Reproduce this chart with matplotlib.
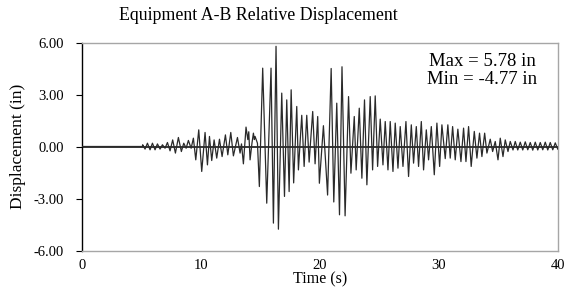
import matplotlib
matplotlib.use("Agg")
import matplotlib.pyplot as plt

plt.rcParams['font.family'] = ['Liberation Serif', 'DejaVu Serif']

title = "Equipment A-B Relative Displacement"
x_label = "Time (s)"
y_label = "Displacement (in)"
x_ticks = [0, 10, 20, 30, 40]
y_ticks = [-6.0, -3.0, 0.0, 3.0, 6.0]
max_val = 5.78
min_val = -4.77

# turning points of the record (time s, displacement in)
time_s = [0.0, 5.10,
          5.12, 5.32, 5.52, 5.74, 5.94, 6.16, 6.36, 6.58, 6.78, 7.00,
          7.20, 7.42, 7.64, 7.87, 8.12, 8.37, 8.57, 8.77, 8.96, 9.19,
          9.38, 9.58, 9.83, 10.08, 10.36, 10.56, 10.73, 10.92, 11.12, 11.34,
          11.57, 11.79, 12.07, 12.27, 12.52, 12.74, 13.08, 13.30,
          13.42, 13.58, 13.80, 13.95, 14.03, 14.14, 14.30, 14.42, 14.50, 14.56,
          14.76, 14.92, 15.20, 15.54, 15.90, 16.10, 16.32, 16.52, 16.80, 17.03,
          17.22, 17.42, 17.59, 17.80, 18.06, 18.20, 18.48, 18.68, 18.90, 19.10,
          19.40, 19.60, 19.82, 19.96, 20.30, 20.65, 20.95, 21.17, 21.42, 21.65,
          21.86, 22.12, 22.41, 22.61, 22.89, 23.05, 23.31, 23.53, 23.75, 23.95,
          24.23, 24.43, 24.65, 24.85, 25.07, 25.30, 25.49, 25.72, 25.91, 26.14,
          26.33, 26.56, 26.75, 26.98, 27.23, 27.45, 27.68, 27.87, 28.10, 28.29,
          28.52, 28.71, 28.94, 29.13, 29.36, 29.61, 29.83, 30.06, 30.25, 30.53,
          30.75, 30.95, 31.15, 31.37, 31.59, 31.85, 32.07, 32.27, 32.49, 32.71,
          32.97, 33.19, 33.41, 33.61, 33.84, 34.03, 34.31, 34.51, 34.73, 34.96,
          35.15, 35.38, 35.57, 35.80, 35.99, 36.22, 36.41, 36.62, 36.83, 37.04,
          37.25, 37.46, 37.67, 37.88, 38.09, 38.30, 38.51, 38.72, 38.93, 39.14,
          39.35, 39.56, 39.77, 39.98]
disp_in = [0.0, 0.0,
           0.10, -0.15, 0.19, -0.19, 0.19, -0.19, 0.15, -0.15, 0.10, -0.10,
           0.23, -0.25, 0.38, -0.38, 0.52, -0.29, 0.19, -0.10, 0.35, -0.10,
           0.48, -0.77, 0.96, -1.44, 0.81, -1.06, 0.58, -0.81, 0.38, -0.67,
           0.42, -0.58, 0.67, -0.48, 0.81, -0.54, 0.52, -0.38,
           0.15, -1.00, 1.12, 0.40, 0.85, -0.77, 0.20, 0.77, 0.40, 0.58,
           0.19, -2.31, 4.52, -3.27, 4.52, -4.42, 5.78, -4.77, 3.08, -2.88,
           2.69, -2.60, 3.27, -2.10, 2.31, -1.35, 1.80, -1.15, 1.80, -0.90,
           2.02, -1.00, 1.73, -2.12, 1.20, -2.80, 4.50, -3.20, 2.50, -3.94,
           4.60, -4.00, 2.88, -1.54, 1.73, -1.35, 2.21, -1.83, 2.69, -2.21,
           2.88, -1.35, 2.92, -1.15, 1.58, -1.06, 1.44, -1.35, 1.44, -1.44,
           1.35, -1.25, 1.15, -1.15, 1.44, -1.73, 1.25, -0.96, 1.15, -1.15,
           1.44, -1.35, 0.96, -0.77, 1.15, -1.63, 1.35, -1.15, 1.25, -0.70,
           1.25, -0.67, 1.15, -0.77, 1.00, -0.87, 1.06, -0.87, 1.15, -1.15,
           0.87, -0.67, 0.77, -0.58, 0.77, -0.38, 0.42, -0.29, 0.29, -0.77,
           0.48, -0.58, 0.38, -0.29, 0.29, -0.20, 0.29, -0.20, 0.25, -0.20,
           0.27, -0.19, 0.23, -0.21, 0.25, -0.20, 0.23, -0.19, 0.25, -0.20,
           0.23, -0.19, 0.21, -0.15]

W, H = 575, 297
fig = plt.figure(figsize=(W / 100, H / 100), dpi=100)
ax = fig.add_axes([81.7 / W, 46.5 / H, (558 - 81.7) / W, (250.5 - 42.5) / H])

ax.axhline(0, color='black', lw=1.1, zorder=2)
ax.plot(time_s, disp_in, color='#2a2a2a', lw=0.9, zorder=3)

ax.set_xlim(0, 40)
ax.set_ylim(-6, 6)
ax.set_xticks(x_ticks)
ax.set_xticklabels([str(v) for v in x_ticks])
ax.set_yticks(y_ticks)
ax.set_yticklabels([f"{v:.2f}" for v in y_ticks])
ax.tick_params(axis='x', length=0, pad=6, labelsize=10.5)
ax.tick_params(axis='y', length=4, width=0.8, direction='out', pad=9, labelsize=10.5)

for side in ['top', 'right', 'bottom']:
    ax.spines[side].set_color('#a6a6a6')
    ax.spines[side].set_linewidth(1.0)
ax.spines['left'].set_color('black')
ax.spines['left'].set_linewidth(1.0)

ax.set_ylabel(y_label, fontsize=12.5, labelpad=5)

fig.text(258 / W, 1 - 15 / H, title, ha='center', va='center', fontsize=12.8)
fig.text(320 / W, 1 - 279 / H, x_label, ha='center', va='center', fontsize=11.5)
fig.text(482 / W, 1 - 62 / H, f"Max = {max_val:.2f} in", ha='center', va='center', fontsize=13.5)
fig.text(482 / W, 1 - 80 / H, f"Min = {min_val:.2f} in", ha='center', va='center', fontsize=13.5)

fig.savefig("out.png", dpi=100)
